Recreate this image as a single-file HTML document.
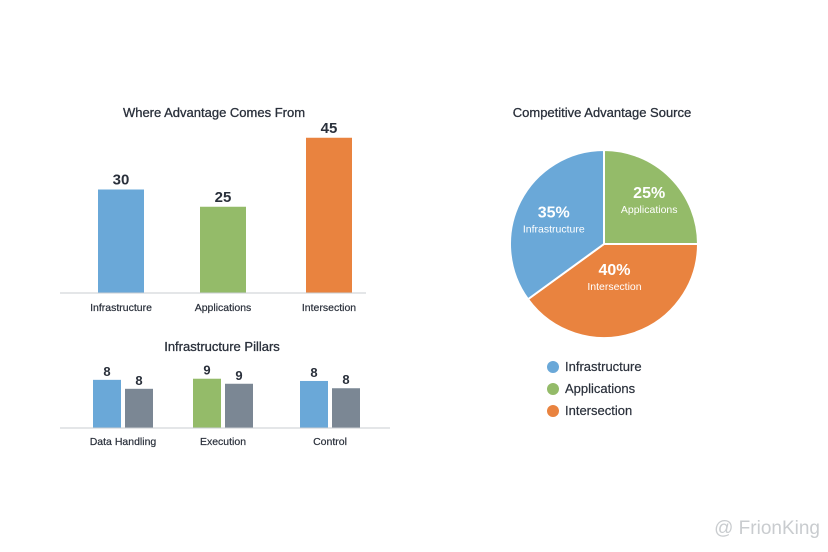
<!DOCTYPE html>
<html><head><meta charset="utf-8"><style>
body{margin:0;background:#fff;}
svg{display:block;font-family:"Liberation Sans",sans-serif;}
</style></head><body>
<svg id="c" width="828" height="552" viewBox="0 0 828 552"></svg>
<script>
const mainCats=["Infrastructure","Applications","Intersection"];
const mainVals=[30,25,45];
const pillarCats=["Data Handling","Execution","Control"];
const pillarA=[8.6,8.8,8.4];
const pillarB=[7.0,7.9,7.1];
const pillarALabels=["8","9","8"];
const pillarBLabels=["8","9","8"];
const pieCats=["Applications","Intersection","Infrastructure"];
const pieVals=[25,40,35];
const legendCats=["Infrastructure","Applications","Intersection"];

const NS="http://www.w3.org/2000/svg";
const svg=document.getElementById('c');
function mk(t,a,txt){const e=document.createElementNS(NS,t);for(const k in a)e.setAttribute(k,a[k]);if(txt!=null)e.textContent=txt;svg.appendChild(e);return e;}
const col={Infrastructure:"#6aa8d8",Applications:"#94bb69",Intersection:"#e9833f",gray:"#7b8794"};
const dark="#2a303b";
const labelFrac={Applications:0.68,Intersection:0.36,Infrastructure:0.6};

let e=mk('text',{x:214,y:117,'text-anchor':'middle','font-size':13,fill:dark,stroke:dark,'stroke-width':0.3},"Where Advantage Comes From");


const base1=293, sc1=3.45;
function y1(v){return base1-v*sc1;}
const cx1=[121,223,329];
mainCats.forEach((c,i)=>{
  const v=mainVals[i];
  let r=mk('rect',{x:cx1[i]-23,y:y1(v),width:46,height:base1-y1(v),fill:col[c]});
  
  
  let t=mk('text',{x:cx1[i],y:y1(v)-5,'text-anchor':'middle','font-size':15,'font-weight':'bold',fill:dark},String(v));
  
  
  let l=mk('text',{x:cx1[i],y:311,'text-anchor':'middle','font-size':10.5,fill:dark,stroke:dark,'stroke-width':0.2},c);
  
  
});
e=mk('line',{x1:60,x2:366,y1:base1,y2:base1,stroke:'#c8ccd2','stroke-width':1});



e=mk('text',{x:222,y:351,'text-anchor':'middle','font-size':13,fill:dark,stroke:dark,'stroke-width':0.3},"Infrastructure Pillars");


const base2=428, sc2=5.6;
function y2(v){return base2-v*sc2;}
const cx2=[123,223,330];
const aCols=[col.Infrastructure,col.Applications,col.Infrastructure];
pillarCats.forEach((c,i)=>{
  const slug=c.toLowerCase().replace(/ /g,'-');
  let r=mk('rect',{x:cx2[i]-30,y:y2(pillarA[i]),width:28,height:base2-y2(pillarA[i]),fill:aCols[i]});
  
  
  let r2=mk('rect',{x:cx2[i]+2,y:y2(pillarB[i]),width:28,height:base2-y2(pillarB[i]),fill:col.gray});
  
  
  let t=mk('text',{x:cx2[i]-16,y:y2(pillarA[i])-4,'text-anchor':'middle','font-size':13,'font-weight':'bold',fill:dark},pillarALabels[i]);
  
  
  let t2=mk('text',{x:cx2[i]+16,y:y2(pillarB[i])-4,'text-anchor':'middle','font-size':13,'font-weight':'bold',fill:dark},pillarBLabels[i]);
  
  
  let l=mk('text',{x:cx2[i],y:445,'text-anchor':'middle','font-size':10.5,fill:dark,stroke:dark,'stroke-width':0.2},c);
  
  
});
e=mk('line',{x1:60,x2:390,y1:base2,y2:base2,stroke:'#c8ccd2','stroke-width':1});



e=mk('text',{x:602,y:117,'text-anchor':'middle','font-size':13,fill:dark,stroke:dark,'stroke-width':0.3},"Competitive Advantage Source");


const pcx=604,pcy=244,R=94;
const total=pieVals.reduce((a,b)=>a+b,0);
let ang=0;
pieCats.forEach((c,i)=>{
  const a0=ang, a1=ang+pieVals[i]/total*2*Math.PI; ang=a1;
  const p=(a,r)=>[pcx+r*Math.sin(a),pcy-r*Math.cos(a)];
  const [x0,y0]=p(a0,R),[x1,y1_]=p(a1,R);
  const large=(a1-a0)>Math.PI?1:0;
  let s=mk('path',{d:`M${pcx},${pcy}L${x0},${y0}A${R},${R} 0 ${large} 1 ${x1},${y1_}Z`,fill:col[c],stroke:'#fff','stroke-width':2});
  
  
  const [lx,ly]=p((a0+a1)/2,R*labelFrac[c]);
  let t=mk('text',{x:lx,y:ly-1,'text-anchor':'middle','font-size':16,'font-weight':'bold',fill:'#fff'},pieVals[i]+'%');
  
  
  let t2=mk('text',{x:lx,y:ly+14,'text-anchor':'middle','font-size':10.5,fill:'#fff'},c);
  
  
});
legendCats.forEach((c,i)=>{
  let d=mk('circle',{cx:553,cy:367+i*22,r:6,fill:col[c]});
  
  
  let t=mk('text',{x:565,y:371+i*22,'font-size':13,fill:dark,stroke:dark,'stroke-width':0.2},c);
  
  
});
e=mk('text',{x:820,y:534,'text-anchor':'end','font-size':19,fill:'#c9cccf'},"@ FrionKing");


</script>
</body></html>
